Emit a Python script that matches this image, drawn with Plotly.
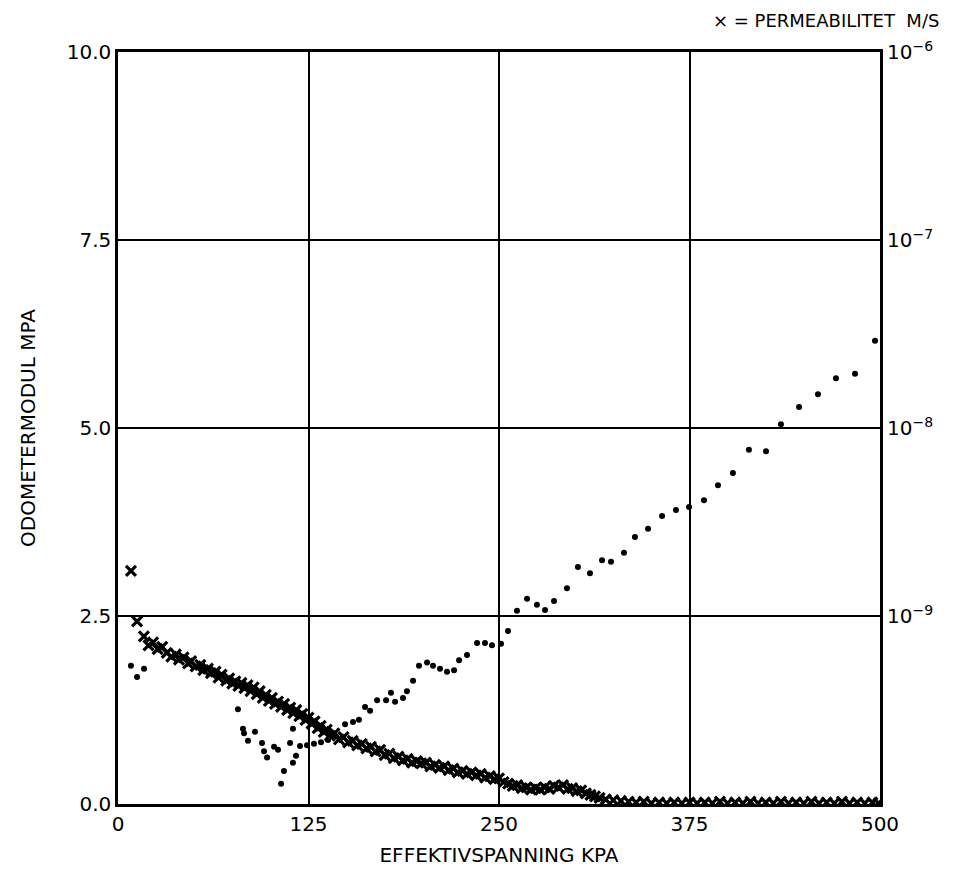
import plotly.graph_objects as go

# Odometer modulus (MPa) vs effective stress (kPa) -- dots, left axis
mod_kpa = [8.5, 12.5, 17.1, 78.7, 82.0, 82.7, 85.3, 89.9, 94.5, 95.8, 97.8, 102.4, 105.0,
           107.0, 108.9, 112.9, 114.8, 114.8, 116.8, 119.4, 124.0, 128.6, 133.2, 137.8, 143.0,
           149.0, 154.2, 158.1, 162.1, 165.4, 170.0, 175.9, 179.1, 181.8, 187.0, 189.6, 193.6,
           197.5, 202.8, 206.7, 211.3, 215.9, 220.5, 223.8, 229.0, 235.6, 240.8, 245.4, 251.3,
           255.9, 261.8, 268.4, 274.9, 280.2, 286.1, 294.6, 301.8, 309.7, 317.6, 323.5, 332.0,
           339.2, 347.8, 357.0, 366.1, 374.7, 384.5, 393.7, 403.5, 414.0, 425.2, 435.0, 446.9,
           459.3, 471.1, 483.6, 496.7]
mod_mpa = [1.84, 1.69, 1.80, 1.26, 1.00, 0.94, 0.84, 0.96, 0.81, 0.70, 0.62, 0.76, 0.72,
           0.27, 0.44, 0.81, 1.00, 0.55, 0.64, 0.77, 0.78, 0.80, 0.82, 0.85, 0.90,
           1.06, 1.09, 1.12, 1.29, 1.24, 1.38, 1.38, 1.48, 1.36, 1.41, 1.50, 1.64,
           1.84, 1.88, 1.84, 1.80, 1.76, 1.78, 1.91, 1.98, 2.14, 2.14, 2.11, 2.13,
           2.30, 2.57, 2.73, 2.65, 2.58, 2.70, 2.87, 3.15, 3.07, 3.24, 3.22, 3.34,
           3.55, 3.66, 3.83, 3.91, 3.95, 4.04, 4.24, 4.40, 4.71, 4.69, 5.05, 5.28,
           5.45, 5.66, 5.72, 6.16]

# Permeability (log10 of m/s) vs effective stress (kPa) -- crosses, right axis
perm_kpa = [8.5, 12.5, 17, 20, 23, 26, 29, 32, 35, 38, 40, 43, 46, 48, 51, 54, 56, 59, 61, 64,
            66, 68, 71, 73, 75, 77, 79, 81, 83, 85, 87, 89, 91, 93, 95, 97, 99, 101, 103, 105,
            107, 109, 111, 113, 115, 117, 119, 121, 123, 125, 127, 129, 131, 133, 135, 137, 139,
            142, 145, 148, 151, 154, 157, 160, 163, 166, 169, 172, 175, 178, 181, 184, 187, 190,
            193, 196, 199, 202, 205, 208, 211, 214, 217, 220, 223, 226, 229, 232, 235, 238, 241,
            244, 247, 250, 253, 256, 259, 262, 265, 268, 271, 274, 277, 280, 283, 286, 289, 292,
            295, 298, 301, 304, 307, 310, 313, 316, 320, 325, 330, 335, 340, 345, 350, 355, 360,
            365, 370, 375, 380, 385, 390, 395, 400, 405, 410, 415, 420, 425, 430, 435, 440, 445,
            450, 455, 460, 465, 470, 475, 480, 485, 490, 495, 499]
perm_log10 = [-8.760, -9.028, -9.108, -9.156, -9.140, -9.176, -9.164, -9.196, -9.216, -9.204,
              -9.232, -9.220, -9.252, -9.240, -9.268, -9.260, -9.288, -9.280, -9.304, -9.296,
              -9.328, -9.312, -9.344, -9.332, -9.360, -9.348, -9.372, -9.356, -9.384, -9.368,
              -9.400, -9.380, -9.416, -9.400, -9.436, -9.420, -9.452, -9.436, -9.468, -9.456,
              -9.484, -9.468, -9.500, -9.488, -9.516, -9.500, -9.532, -9.520, -9.552, -9.540,
              -9.572, -9.560, -9.596, -9.584, -9.616, -9.604, -9.636,
              -9.624, -9.656, -9.644, -9.672, -9.664, -9.688, -9.680, -9.704, -9.696, -9.720,
              -9.712, -9.740, -9.732, -9.756, -9.748, -9.768, -9.760,
              -9.780, -9.772, -9.784, -9.780, -9.800, -9.792, -9.808, -9.800, -9.820, -9.812,
              -9.832, -9.824, -9.840, -9.832, -9.848, -9.840, -9.860,
              -9.852, -9.868, -9.864, -9.884, -9.892, -9.904, -9.900, -9.916, -9.912, -9.924,
              -9.916, -9.924, -9.912, -9.920, -9.904, -9.912, -9.900,
              -9.920, -9.916, -9.932, -9.928, -9.944, -9.952, -9.960, -9.968, -9.976, -9.980,
              -9.984, -9.988, -9.992, -9.988, -9.996, -9.992, -9.996,
              -9.992, -9.996, -9.992, -9.996, -9.992, -9.996, -9.988, -9.996, -9.992, -9.996,
              -9.988, -9.996, -9.992, -9.996, -9.988, -9.996, -9.992,
              -9.996, -9.988, -9.996, -9.992, -9.996, -9.988, -9.996, -9.992, -9.996, -9.992,
              -9.996]

x_ticks = [0, 125, 250, 375, 500]
left_ticks = [0.0, 2.5, 5.0, 7.5, 10.0]
right_exps = [-6, -7, -8, -9]

FONT = "DejaVu Sans, sans-serif"

fig = go.Figure()
fig.add_trace(go.Scatter(
    x=mod_kpa, y=mod_mpa, mode="markers", yaxis="y",
    marker=dict(symbol="circle", size=6, color="black"),
    showlegend=False))
fig.add_trace(go.Scatter(
    x=perm_kpa, y=[10 ** v for v in perm_log10], mode="markers", yaxis="y2",
    marker=dict(symbol="x-thin", size=10, color="black", line=dict(width=3.2, color="black")),
    showlegend=False))

fig.update_layout(
    width=977, height=884,
    margin=dict(l=118, r=97, t=52, b=80),
    paper_bgcolor="white", plot_bgcolor="white",
    font=dict(family=FONT, color="black", size=20),
    xaxis=dict(range=[0, 500], tickvals=x_ticks, ticktext=[str(v) for v in x_ticks],
               showgrid=True, gridcolor="black", gridwidth=2,
               showline=True, linecolor="black", linewidth=2.5, mirror=True,
               zeroline=False, ticks="", ticklen=0,
               title=dict(text="EFFEKTIVSPANNING KPA", font=dict(size=20), standoff=14),
               tickfont=dict(size=20)),
    yaxis=dict(range=[0, 10], tickvals=left_ticks, ticktext=[f"{v:.1f}" for v in left_ticks],
               showgrid=True, gridcolor="black", gridwidth=2,
               showline=True, linecolor="black", linewidth=2.5, mirror=True,
               zeroline=False, ticks="",
               title=dict(text="ODOMETERMODUL MPA", font=dict(size=20), standoff=26),
               tickfont=dict(size=20)),
    yaxis2=dict(type="log", range=[-10, -6], overlaying="y", side="right",
                tickvals=[10 ** e for e in right_exps],
                ticktext=[f"10<sup>\u2212{-e}</sup>" for e in right_exps],
                showgrid=False, zeroline=False, showline=False, ticks="",
                ticklabelstandoff=6,
                tickfont=dict(size=20)),
    annotations=[dict(text="\u00d7 = PERMEABILITET  M/S", xref="paper", yref="paper",
                      x=1.08, y=1.025, xanchor="right", yanchor="bottom",
                      showarrow=False, font=dict(size=18))],
)

fig.write_html("out.html")
